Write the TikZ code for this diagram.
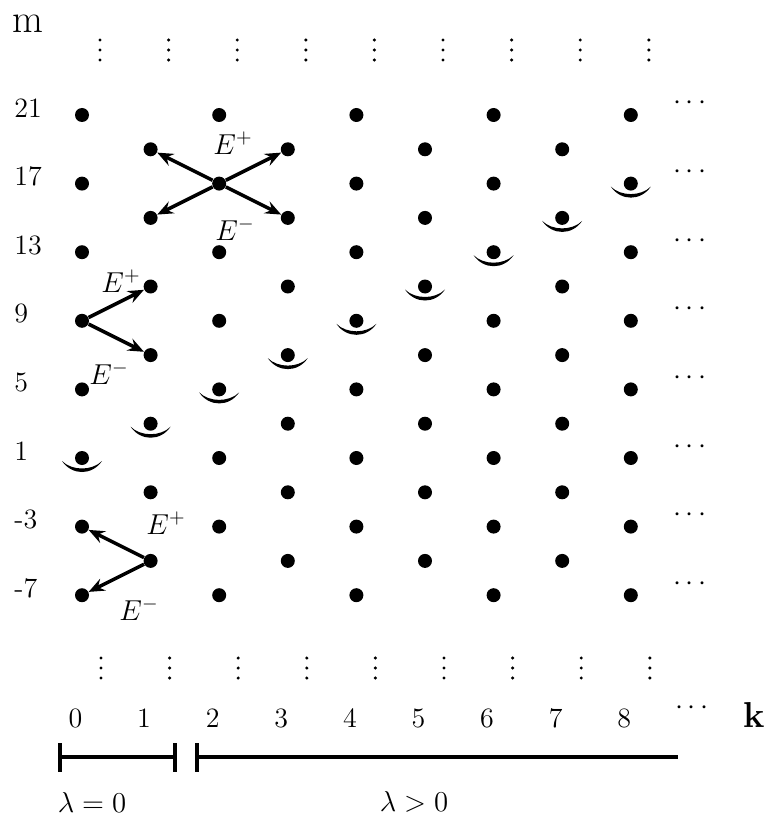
\documentclass[tikz,border=0pt]{standalone}
\usetikzlibrary{arrows.meta}
\tikzset{
  dotn/.style={circle,fill=black,inner sep=0pt,minimum size=7pt},
  vdot/.style={circle,fill=black,inner sep=0pt,minimum size=1.7pt},
  lbl/.style={font=\fontsize{14}{17}\selectfont,inner sep=0pt},
  arr/.style={line width=1.75pt,-{Stealth[length=8pt,width=6.5pt,inset=2.8pt]}},
  barline/.style={line width=2.4pt},
}
\begin{document}
\begin{tikzpicture}[x=0.5pt,y=-0.5pt]
\useasboundingbox (0,0) rectangle (771,818);
% lattice points
\foreach \k in {0,...,8} {
  \foreach \j in {0,...,7} {
    \pgfmathtruncatemacro{\m}{21-4*\j-2*mod(\k,2)}
    \ifnum\m>-8
      \pgfmathsetmacro{\xx}{82+68.6*\k}
      \pgfmathsetmacro{\yy}{115+(21-\m)*17.15}
      \node[dotn] (p\k m\m) at (\xx,\yy) {};
      \pgfmathtruncatemacro{\s}{2*\k+1}
      \ifnum\m=\s
        \fill (\xx-20,\yy+3) .. controls (\xx-10,\yy+17.7) and (\xx+10,\yy+17.7) .. (\xx+20,\yy+3)
              .. controls (\xx+10,\yy+13) and (\xx-10,\yy+13) .. cycle;
      \fi
    \fi
  }
  \pgfmathsetmacro{\xx}{82+68.6*\k}
  \foreach \d in {-10,0,10} {
    \node[vdot] (vt\k d\d) at (\xx+18,50+\d) {};
    \node[vdot] (vb\k d\d) at (\xx+19,668+\d) {};
  }
  \node[lbl] (kl\k) at (\xx-6.5,718) {\k};
}
% horizontal ellipses
\foreach \i in {0,...,7} {
  \node[lbl,anchor=base] (hd\i) at (690,{103+68.6*\i+7}) {$\cdots$};
}
\node[lbl,anchor=base] (hdk) at (692,714) {$\cdots$};
% row labels
\foreach \m/\i in {21/0,17/1,13/2,9/3,5/4,1/5,-3/6,-7/7} {
  \node[lbl,anchor=west] (ml\i) at (14,{115+68.6*\i-7}) {\m};
}
\node[font=\fontsize{20}{24}\selectfont,inner sep=0pt,anchor=west] (mlab) at (12,24) {m};
\node[font=\fontsize{18}{22}\selectfont\bfseries,inner sep=0pt] (klab) at (754,715) {k};
% arrows
\draw[arr] (p2m17) -- (p1m19);
\draw[arr] (p2m17) -- (p3m19);
\draw[arr] (p2m17) -- (p1m15);
\draw[arr] (p2m17) -- (p3m15);
\draw[arr] (p0m9) -- (p1m11);
\draw[arr] (p0m9) -- (p1m7);
\draw[arr] (p1m-5) -- (p0m-3);
\draw[arr] (p1m-5) -- (p0m-7);
% arrow labels
\node[lbl] (ep1) at (233,143) {$E^+$};
\node[lbl] (em1) at (235,229) {$E^-$};
\node[lbl] (ep2) at (121,281) {$E^+$};
\node[lbl] (em2) at (109,373) {$E^-$};
\node[lbl] (ep3) at (166,523) {$E^+$};
\node[lbl] (em3) at (139,609) {$E^-$};
% lambda ranges
\coordinate (a1) at (60,757);
\coordinate (a2) at (175,757);
\coordinate (b1) at (197,757);
\coordinate (b2) at (678,757);
\draw[barline] (a1) -- (a2);
\draw[barline] ([yshift=-7.25pt]a1) -- ([yshift=7.25pt]a1);
\draw[barline] ([yshift=-7.25pt]a2) -- ([yshift=7.25pt]a2);
\draw[barline] (b1) -- (b2);
\draw[barline] ([yshift=-7.25pt]b1) -- ([yshift=7.25pt]b1);
\node[lbl] (lam0) at (92,802) {$\lambda=0$};
\node[lbl] (lam1) at (414,802) {$\lambda>0$};
\end{tikzpicture}
\end{document}
